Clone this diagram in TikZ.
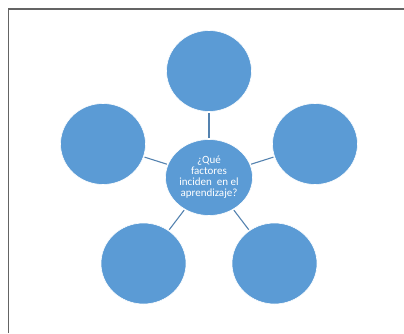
\documentclass[tikz,border=0pt]{standalone}
\usepackage{fontspec}
\setmainfont{Carlito}
\usetikzlibrary{shapes.geometric}
\definecolor{circfill}{RGB}{91,155,213}
\definecolor{linkcol}{RGB}{84,130,175}
\definecolor{framecol}{RGB}{100,100,100}
\begin{document}
\begin{tikzpicture}[x=1pt,y=1pt,
  outer/.style={ellipse,fill=circfill,draw=white,line width=0.6pt,minimum width=85pt,minimum height=81pt,inner sep=0pt},
  hub/.style={ellipse,fill=circfill,draw=white,line width=0.6pt,minimum width=87pt,minimum height=76pt,inner sep=0pt,
    text=white,align=center,font=\fontsize{11}{11}\selectfont},
  link/.style={draw=linkcol,line width=1.1pt,shorten <=1pt,shorten >=1pt}]
\useasboundingbox (0,0) rectangle (404,333);
\coordinate (ftl) at (8.5,324);
\coordinate (ftr) at (404,324);
\coordinate (fbl) at (8.5,0);
\draw[framecol,line width=1.6pt] (fbl) -- (ftl) -- (ftr);
\node[outer] (t) at (209,262) {};
\node[outer] (r) at (315,189) {};
\node[outer] (l) at (103,189) {};
\node[outer] (bl) at (143.5,69.5) {};
\node[outer] (br) at (274.5,69.5) {};
\node[hub] (c) at (209,155.5) {¿Qué\\factores\\inciden\ \ en el\\aprendizaje?};
\draw[link] (c) -- (t);
\draw[link] (c) -- (r);
\draw[link] (c) -- (l);
\draw[link] (c) -- (bl);
\draw[link] (c) -- (br);
\end{tikzpicture}
\end{document}
